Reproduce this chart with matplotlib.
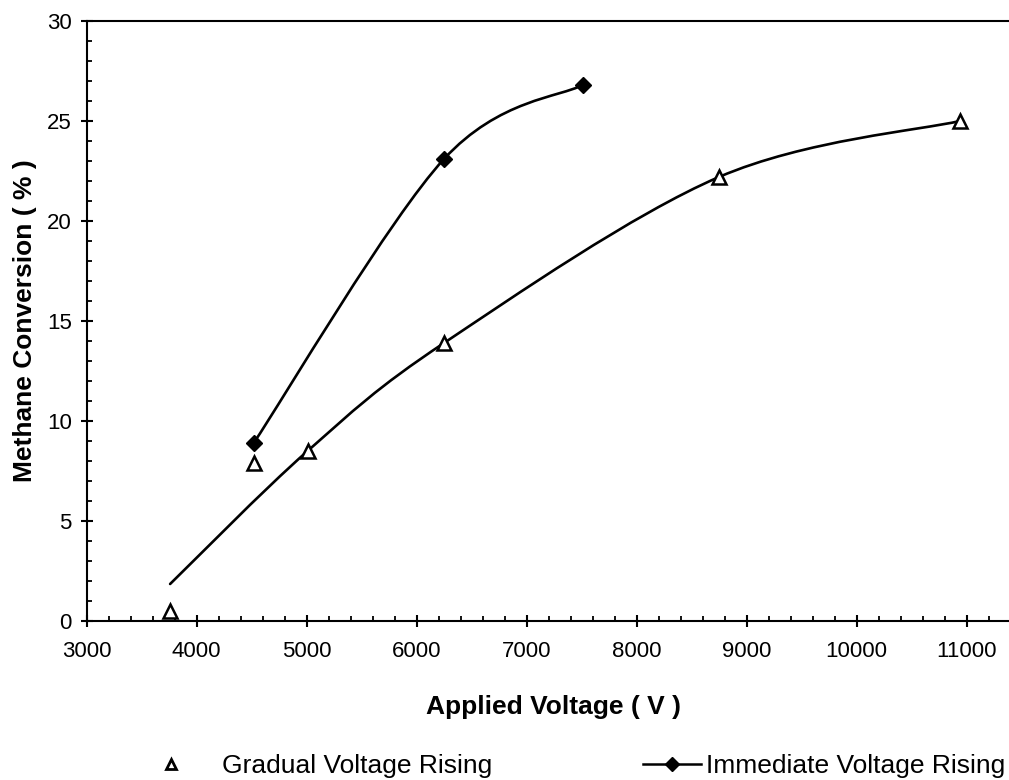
import matplotlib

matplotlib.use("Agg")
import matplotlib.pyplot as plt
import numpy as np
from matplotlib import font_manager
from matplotlib.lines import Line2D
from matplotlib.patches import PathPatch
from matplotlib.path import Path
from matplotlib.ticker import MultipleLocator

# measured points
gradual_v = [3760, 4520, 5010, 6250, 8750, 10940]
gradual_pct = [0.5, 7.9, 8.5, 13.9, 22.2, 25.0]
immediate_v = [4520, 6250, 7510]
immediate_pct = [8.9, 23.1, 26.8]

# hand-drawn trend line through the gradual series
gradual_curve_v = [3760, 5010, 6250, 8750, 10940]
gradual_curve_pct = [1.85, 8.5, 13.9, 22.2, 25.0]

x_ticks = [3000, 4000, 5000, 6000, 7000, 8000, 9000, 10000, 11000]
y_ticks = [0, 5, 10, 15, 20, 25, 30]

installed = {f.name for f in font_manager.fontManager.ttflist}
BODY_FONT = "Liberation Sans" if "Liberation Sans" in installed else "DejaVu Sans"
plt.rcParams["font.family"] = [BODY_FONT, "DejaVu Sans"]


def smooth_path(xs, ys) -> Path:
    """Catmull-Rom style cubic Bezier through the given points."""
    pts = np.column_stack([xs, ys]).astype(float)
    verts = [pts[0]]
    codes = [Path.MOVETO]
    for i in range(len(pts) - 1):
        p0 = pts[i - 1] if i > 0 else pts[i]
        p1 = pts[i]
        p2 = pts[i + 1]
        p3 = pts[i + 2] if i + 2 < len(pts) else pts[i + 1]
        verts += [p1 + (p2 - p0) / 6.0, p2 - (p3 - p1) / 6.0, p2]
        codes += [Path.CURVE4] * 3
    return Path(verts, codes)


fig = plt.figure(figsize=(10.09, 7.8), dpi=100)
ax = fig.add_axes((86.5 / 1009, 159 / 780, 935 / 1009, 600 / 780))

line_kw = dict(facecolor="none", edgecolor="black", linewidth=1.9, capstyle="round", joinstyle="round")
ax.add_patch(PathPatch(smooth_path(gradual_curve_v, gradual_curve_pct), zorder=2, **line_kw))
ax.add_patch(PathPatch(smooth_path(immediate_v, immediate_pct), zorder=2, **line_kw))

ax.plot(gradual_v, gradual_pct, ls="none", marker="^", markersize=9.5,
        markerfacecolor="white", markeredgecolor="black", markeredgewidth=1.8, zorder=3)
ax.plot(immediate_v, immediate_pct, ls="none", marker="D", markersize=8.5,
        markerfacecolor="black", markeredgecolor="black", zorder=3)

ax.set_xlim(3000, 11500)
ax.set_ylim(0, 30)
ax.set_xticks(x_ticks)
ax.set_yticks(y_ticks)
ax.xaxis.set_minor_locator(MultipleLocator(200))
ax.yaxis.set_minor_locator(MultipleLocator(1))

for side in ("left", "bottom", "top", "right"):
    ax.spines[side].set_linewidth(1.5)

ax.tick_params(which="major", direction="inout", length=9, width=1.5, labelsize=16)
ax.tick_params(which="minor", direction="in", length=3.5, width=1.3)
ax.tick_params(axis="x", which="major", pad=10)
ax.tick_params(axis="y", which="major", pad=6)

ax.set_xlabel("Applied Voltage ( V )", fontsize=19, fontweight="bold", labelpad=24)
ax.set_ylabel("Methane Conversion ( % )", fontsize=19, fontweight="bold", labelpad=7)

gradual_handle = Line2D([], [], ls="none", marker="^", markersize=7, markerfacecolor="white",
                        markeredgecolor="black", markeredgewidth=2)
immediate_handle = Line2D([], [], color="black", lw=1.8, marker="D", markersize=7,
                          markerfacecolor="black")

legend_kw = dict(loc="center left", frameon=False, borderpad=0, borderaxespad=0,
                 handlelength=2.2, prop={"size": 19})
fig.legend([gradual_handle], ["Gradual Voltage Rising"], bbox_to_anchor=(142 / 1009, 0.018),
           handletextpad=0.85, **legend_kw)
fig.legend([immediate_handle], ["Immediate Voltage Rising"], bbox_to_anchor=(643 / 1009, 0.018),
           handletextpad=0.2, **legend_kw)

fig.savefig("out.png", dpi=100)
